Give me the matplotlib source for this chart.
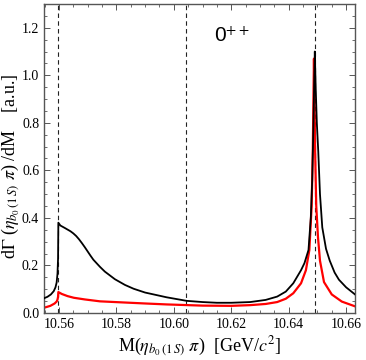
import matplotlib
matplotlib.use("Agg")
import matplotlib.pyplot as plt
from matplotlib.ticker import MultipleLocator, FormatStrFormatter

plt.rcParams['font.family'] = ['Liberation Serif', 'DejaVu Serif']
plt.rcParams['mathtext.fontset'] = 'stix'

# thresholds (dashed lines)
thresholds = [10.5598, 10.6043, 10.6490]

# black curve
black_x = [10.5548, 10.5560, 10.5572, 10.5582, 10.5588, 10.5592, 10.5595, 10.5597, 10.5598,
           10.5605, 10.5620, 10.5640, 10.5650, 10.5660, 10.5670, 10.5680, 10.5690,
           10.5700, 10.5710, 10.5720, 10.5743, 10.5760, 10.5795, 10.5830, 10.5860,
           10.5900, 10.5975, 10.6045, 10.6100, 10.6150, 10.6200, 10.6266, 10.6320,
           10.6360, 10.6390, 10.6416, 10.6443, 10.6455, 10.6469, 10.6477, 10.6482,
           10.6486, 10.6489, 10.6491, 10.6494, 10.6498, 10.6503, 10.6509, 10.6517,
           10.6530, 10.6543, 10.6560, 10.6575, 10.6600, 10.6631]
black_y = [0.062, 0.068, 0.078, 0.092, 0.108, 0.128, 0.165, 0.230, 0.380,
           0.368, 0.358, 0.344, 0.335, 0.324, 0.310, 0.294, 0.277,
           0.259, 0.241, 0.224, 0.194, 0.174, 0.142, 0.118, 0.102,
           0.086, 0.066, 0.051, 0.046, 0.043, 0.043, 0.046, 0.055,
           0.069, 0.090, 0.125, 0.180, 0.210, 0.265, 0.400, 0.560,
           0.780, 0.980, 1.100, 0.950, 0.800, 0.680, 0.500, 0.360,
           0.270, 0.220, 0.170, 0.140, 0.108, 0.078]

# red curve
red_x = [10.5548, 10.5570, 10.5585, 10.5592, 10.5595, 10.5597, 10.5598, 10.5610,
         10.5630, 10.5652, 10.5690, 10.5743, 10.5830, 10.5900, 10.5975, 10.6100,
         10.6200, 10.6266, 10.6320, 10.6360, 10.6390, 10.6416, 10.6443, 10.6460,
         10.6472, 10.6480, 10.6484, 10.6486, 10.6488, 10.6490, 10.6492, 10.6496,
         10.6502, 10.6509, 10.6523, 10.6550, 10.6585, 10.6631]
red_y = [0.022, 0.030, 0.040, 0.048, 0.056, 0.068, 0.088, 0.080,
         0.071, 0.064, 0.057, 0.049, 0.044, 0.040, 0.036, 0.031,
         0.030, 0.033, 0.038, 0.046, 0.060, 0.083, 0.125, 0.180,
         0.265, 0.450, 0.686, 0.880, 1.070, 0.900, 0.686, 0.450,
         0.320, 0.220, 0.130, 0.078, 0.048, 0.028]

fig = plt.figure(figsize=(3.66, 3.60), dpi=100)
ax = fig.add_axes([0.1202, 0.1306, 0.8498, 0.8583])

for t in thresholds:
    ax.axvline(t, color='#222222', lw=0.8, ls=(0, (4, 3)), zorder=1)

ax.plot(black_x, black_y, color='black', lw=1.3, zorder=3)
ax.plot(red_x, red_y, color='#ff0000', lw=1.6, zorder=2)

ax.set_xlim(10.5548, 10.6631)
ax.set_ylim(0, 1.30)

ax.xaxis.set_major_locator(MultipleLocator(0.02))
ax.xaxis.set_minor_locator(MultipleLocator(0.005))
ax.yaxis.set_major_locator(MultipleLocator(0.2))
ax.yaxis.set_minor_locator(MultipleLocator(0.05))
ax.xaxis.set_major_formatter(FormatStrFormatter('%.2f'))
ax.yaxis.set_major_formatter(FormatStrFormatter('%.1f'))

ax.tick_params(which='both', direction='in', top=True, right=True, color='#555555',
               labelsize=10)
ax.tick_params(which='major', length=4, width=0.7)
ax.tick_params(which='minor', length=2.2, width=0.6)
for s in ax.spines.values():
    s.set_color('#555555')
    s.set_linewidth(1.0)

ax.set_xlabel(r'M($\eta_{b_0\,(1\,S)}\ \pi$)  [GeV/$c^2$]', fontsize=13, labelpad=3)
ax.set_ylabel(r'd$\Gamma$ ($\eta_{b_0\,(1\,S)}\ \pi$) /dM    [a.u.]', fontsize=13,
              va='center', ha='center')
ax.yaxis.set_label_coords(-0.108, 0.475)

ax.text(10.6203, 1.165, r'0$^{\mathsf{++}}$', fontsize=15, family=['Liberation Sans', 'DejaVu Sans'],
        ha='center', va='center')

fig.savefig('out.png', dpi=100)
